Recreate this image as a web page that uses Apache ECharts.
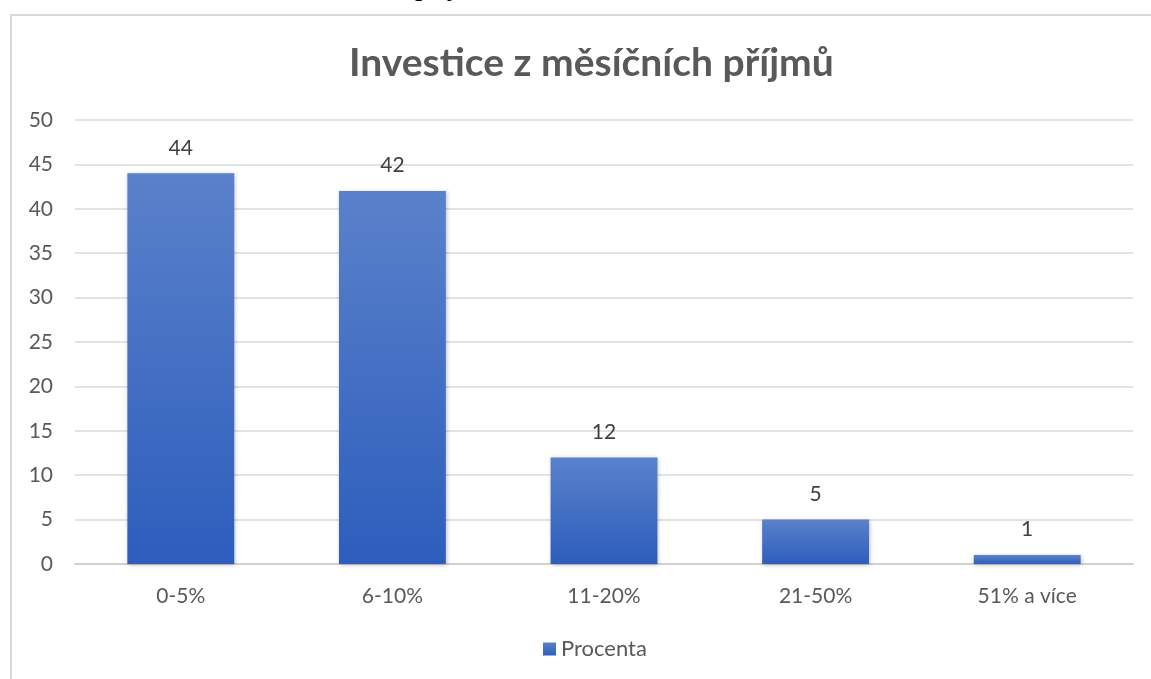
<!DOCTYPE html>
<html>
<head>
<meta charset="utf-8">
<script src="https://cdn.jsdelivr.net/npm/echarts@6/dist/echarts.min.js"></script>
<style>
  html, body { margin: 0; padding: 0; background: #fff; }
  #chart { width: 1151px; height: 679px; }
</style>
</head>
<body>
<div id="chart"></div>
<script>
// kategorie a hodnoty
const categories = ['0-5%', '6-10%', '11-20%', '21-50%', '51% a více']
const values = [44, 42, 12, 5, 1]
const seriesName = 'Procenta'
const titleText = 'Investice z měsíčních příjmů'

const chart = echarts.init(document.getElementById('chart'))
const font = 'Lato, "Open Sans", sans-serif'

const option = {
  animation: false,
  textStyle: { fontFamily: font },
  title: {
    text: titleText,
    left: 344,
    top: 39,
    textStyle: { fontSize: 39, fontWeight: 'bold', color: '#595959', fontFamily: font }
  },
  graphic: [
    {
      type: 'rect',
      shape: { x: 11, y: 15, width: 1200, height: 700 },
      style: { fill: 'none', stroke: '#d9d9d9', lineWidth: 2 },
      silent: true
    },
    // zbytek textu dokumentu nad grafem (oříznutý)
    {
      type: 'text',
      x: 415,
      y: -28,
      silent: true,
      style: {
        text: 'příjmů',
        font: '30px "Liberation Serif", serif',
        fill: '#000',
        verticalAlign: 'top'
      }
    }
  ],
  grid: { left: 75, right: 18, top: 120, bottom: 115 },
  legend: {
    bottom: 14,
    left: 538,
    itemWidth: 13,
    itemHeight: 13,
    itemGap: 7,
    icon: 'rect',
    textStyle: { fontSize: 22, color: '#595959', fontFamily: font },
    data: [seriesName]
  },
  xAxis: {
    type: 'category',
    data: categories,
    axisTick: { show: false },
    axisLine: { lineStyle: { color: '#d0d0d0', width: 2 } },
    axisLabel: { fontSize: 21, color: '#595959', margin: 22 }
  },
  yAxis: {
    type: 'value',
    min: 0,
    max: 50,
    interval: 5,
    axisLine: { show: false },
    axisTick: { show: false },
    axisLabel: { fontSize: 21, color: '#595959', margin: 22 },
    splitLine: { lineStyle: { color: '#d9d9d9', width: 1.5 } }
  },
  color: ['#4472c4'],
  series: [
    {
      name: seriesName,
      type: 'bar',
      barWidth: '50.5%',
      data: values,
      itemStyle: {
        color: new echarts.graphic.LinearGradient(0, 0, 0, 1, [
          { offset: 0, color: '#5a81ca' },
          { offset: 1, color: '#2d5ebd' }
        ]),
        shadowColor: 'rgba(0,0,0,0.25)',
        shadowBlur: 4,
        shadowOffsetX: 1,
        shadowOffsetY: 1
      },
      label: {
        show: true,
        position: 'top',
        distance: 15,
        fontSize: 21,
        color: '#404040'
      }
    }
  ]
}

chart.setOption(option, true)
</script>
</body>
</html>
